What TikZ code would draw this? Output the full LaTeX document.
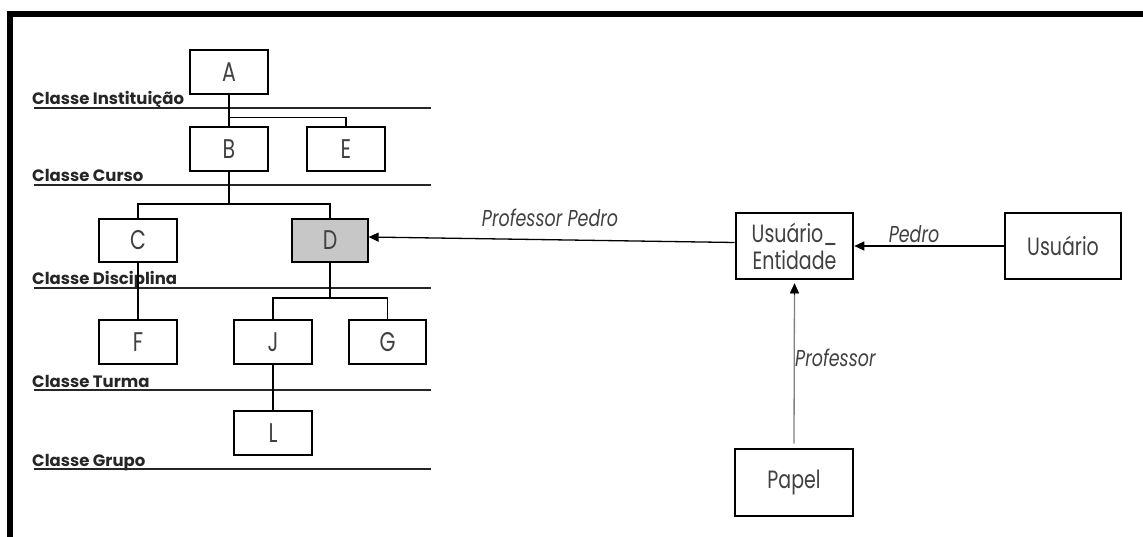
\documentclass[tikz,border=0pt]{standalone}
\usepackage{fontspec}
\setmainfont{Poppins}[FakeStretch=0.76]
\newfontfamily\lvlfont{Poppins}
\usetikzlibrary{arrows.meta}
\begin{document}
\begin{tikzpicture}[x=1pt,y=-1pt,
  tbox/.style={draw=black,line width=1.2pt,minimum width=78pt,minimum height=44pt,inner sep=0pt,text=black!75,font=\fontsize{27}{32}\selectfont},
  rbox/.style={draw=black,line width=2.6pt,minimum width=117pt,minimum height=66pt,inner sep=0pt,text=black!75,font=\fontsize{25}{28}\selectfont,align=center},
  lvl/.style={anchor=base west,inner sep=0pt,font=\lvlfont\fontsize{16.5}{18}\selectfont\bfseries,text=black!85},
  lvlline/.style={line width=1.4pt,black!85},
  conn/.style={line width=1.2pt},
  arr/.style={line width=1.3pt,-{Triangle[length=10pt,width=9pt]}},
  lab/.style={inner sep=0pt,font=\fontsize{23}{26}\selectfont\itshape,text=black!75}
]
\useasboundingbox (0,0) rectangle (1143,537);
% frame
\draw[line width=6pt] (10,537) -- (10,14) -- (1143,14);
% level lines and labels
\node[lvl] (l1) at (32,105) {Classe Instituição};
\node[lvl] (l2) at (32,182) {Classe Curso};
\node[lvl] (l3) at (32,285) {Classe Disciplina};
\node[lvl] (l4) at (32,387) {Classe Turma};
\node[lvl] (l5) at (32,466) {Classe Grupo};
\coordinate (e1) at (432,108); \draw[lvlline] (l1.base west |- e1) ++(2,0) -- ++(397,0);
\coordinate (e2) at (432,185); \draw[lvlline] (l2.base west |- e2) ++(2,0) -- ++(397,0);
\coordinate (e3) at (432,288); \draw[lvlline] (l3.base west |- e3) ++(2,0) -- ++(397,0);
\coordinate (e4) at (432,390); \draw[lvlline] (l4.base west |- e4) ++(2,0) -- ++(397,0);
\coordinate (e5) at (432,469); \draw[lvlline] (l5.base west |- e5) ++(2,0) -- ++(397,0);
% tree boxes
\node[tbox] (A) at (229,72) {A};
\node[tbox] (B) at (229,149) {B};
\node[tbox] (E) at (346,149) {E};
\node[tbox,minimum height=43pt] (C) at (138,240.5) {C};
\node[tbox,minimum height=43pt,minimum width=76pt,fill=black!22] (D) at (330,240.5) {D};
\node[tbox] (F) at (138,342) {F};
\node[tbox] (J) at (273,342) {J};
\node[tbox,minimum width=77pt] (G) at (387.5,342) {G};
\node[tbox] (L) at (273,433) {L};
% tree connectors
\draw[conn] (A.south) -- (B.north);
\draw[conn] (A.south) ++(0,23) -| (E.north);
\coordinate (bc) at (229,204);
\draw[conn] (B.south) -- (bc);
\draw[conn] (bc) -| (C.north);
\draw[conn] (bc) -| (D.north);
\draw[conn] (C.south) -- (F.north);
\coordinate (dj) at (330,298);
\draw[conn] (D.south) -- (dj);
\draw[conn] (dj) -| (J.north);
\draw[conn] (dj) -| (G.north);
\draw[conn] (J.south) -- (L.north);
% right side
\node[rbox] (UE) at (794.5,246) {Usuário\_\\[-1pt]Entidade};
\node[rbox,minimum width=116pt] (U) at (1063,246) {Usuário};
\node[rbox,minimum width=118pt,minimum height=67pt] (P) at (794,482.5) {Papel};
\draw[arr] ([yshift=3.5pt]UE.west) -- ([yshift=3.5pt]D.east);
\draw[arr] (U.west) -- (UE.east);
\draw[arr,black!50] ([yshift=4pt]P.north) -- ([yshift=-3pt]UE.south);
\draw[black,-{Triangle[length=10pt,width=9pt]},line width=0pt] ([yshift=-2pt]UE.south) ++(0,12) -- ([yshift=-3pt]UE.south);
\node[lab] (pp) at (550,218) {Professor Pedro};
\node[lab] (pe) at (914,234) {Pedro};
\node[lab,anchor=west] (pr) at (795,358) {Professor};
\end{tikzpicture}
\end{document}
